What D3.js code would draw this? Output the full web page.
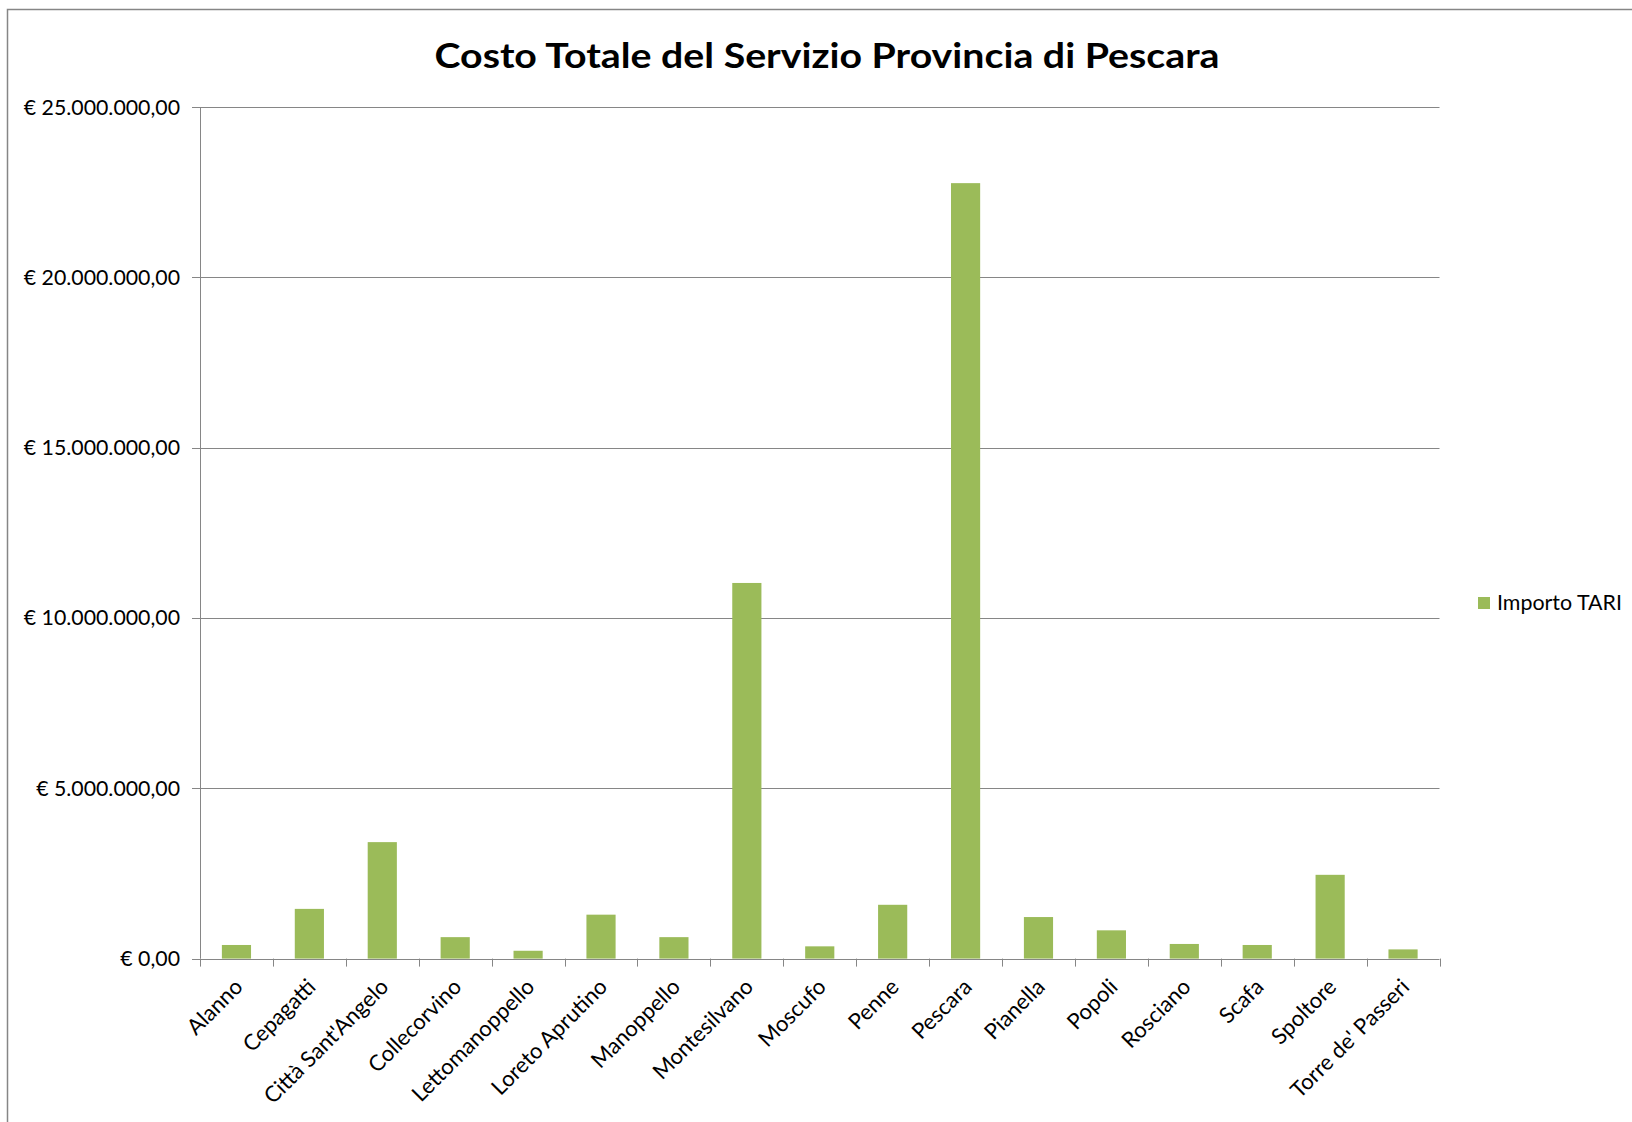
<!DOCTYPE html>
<html><head><meta charset="utf-8">
<script src="https://cdn.jsdelivr.net/npm/d3@7"></script>
<style>html,body{margin:0;padding:0;background:#fff;} svg{display:block;}</style>
</head><body>
<script>
const categories = ["Alanno","Cepagatti","Città Sant'Angelo","Collecorvino","Lettomanoppello","Loreto Aprutino","Manoppello","Montesilvano","Moscufo","Penne","Pescara","Pianella","Popoli","Rosciano","Scafa","Spoltore","Torre de' Passeri"];
const values = [400000,1460000,3420000,630000,230000,1290000,630000,11030000,360000,1580000,22770000,1220000,830000,430000,400000,2460000,270000];
const yTicks = [0,5000000,10000000,15000000,20000000,25000000];
const seriesName = "Importo TARI";
const title = "Costo Totale del Servizio Provincia di Pescara";

const W = 1632, H = 1122;
const m = {left:200, right:W-1439.5, top:107.2, bottom:H-958.6};
const svg = d3.select("body").append("svg").attr("width",W).attr("height",H);
svg.append("rect").attr("width",W).attr("height",H).attr("fill","#fff");
svg.append("rect").attr("x",7.5).attr("y",9.5).attr("width",W+20).attr("height",H+20)
  .attr("fill","none").attr("stroke","#868686").attr("stroke-width",1.5);

const x = d3.scaleBand().domain(categories).range([m.left, W-m.right]).paddingInner(0.6).paddingOuter(0.3);
const y = d3.scaleLinear().domain([0,25000000]).range([H-m.bottom, m.top]);

const fmt = v => "€ " + d3.format(",.2f")(v).replace(/,/g,"#").replace(/\./g,",").replace(/#/g,".");
const font = "Lato, 'Open Sans', sans-serif";

// gridlines
svg.append("g").selectAll("line").data(yTicks).join("line")
  .attr("x1", m.left-8).attr("x2", W-m.right)
  .attr("y1", d=>Math.round(y(d))+0.5).attr("y2", d=>Math.round(y(d))+0.5)
  .attr("stroke","#868686").attr("stroke-width",1);

// y axis line
svg.append("line").attr("x1",m.left+0.5).attr("x2",m.left+0.5)
  .attr("y1",m.top).attr("y2",H-m.bottom).attr("stroke","#868686");

// y labels
svg.append("g").selectAll("text").data(yTicks).join("text")
  .attr("x", m.left-20).attr("y", d=>y(d)).attr("dy","0.35em")
  .attr("text-anchor","end").attr("font-family",font).attr("font-size",21.3)
  .attr("fill","#000").text(fmt);

// bars
svg.append("g").selectAll("rect").data(categories).join("rect")
  .attr("x", d=>x(d)).attr("width", x.bandwidth())
  .attr("y", (d,i)=>y(values[i])).attr("height",(d,i)=>y(0)-y(values[i]))
  .attr("fill","#9BBB59");

// x axis ticks at category boundaries
const step = x.step();
const bounds = d3.range(categories.length+1).map(i => m.left + i*step);
svg.append("g").selectAll("line").data(bounds).join("line")
  .attr("x1", d=>Math.round(d)+0.5).attr("x2", d=>Math.round(d)+0.5)
  .attr("y1", y(0)).attr("y2", y(0)+8).attr("stroke","#868686");

// x labels
svg.append("g").selectAll("text").data(categories).join("text")
  .attr("transform", d=>`translate(${x(d)+x.bandwidth()/2-4},${y(0)+18}) rotate(-45)`)
  .attr("text-anchor","end").attr("dy","0.75em")
  .attr("font-family",font).attr("font-size",22).attr("fill","#000").text(d=>d);

// title
svg.append("text").attr("x",827).attr("y",68).attr("text-anchor","middle")
  .attr("font-family",font).attr("font-weight","bold").attr("font-size",35)
  .attr("textLength",785).attr("lengthAdjust","spacingAndGlyphs").attr("fill","#000").text(title);

// legend
const lg = svg.append("g");
lg.append("rect").attr("x",1478).attr("y",597).attr("width",12).attr("height",12).attr("fill","#9BBB59");
lg.append("text").attr("x",1497).attr("y",603).attr("dy","0.35em").attr("font-family",font)
  .attr("font-size",21.4).attr("fill","#000").text(seriesName);
</script>
</body></html>
